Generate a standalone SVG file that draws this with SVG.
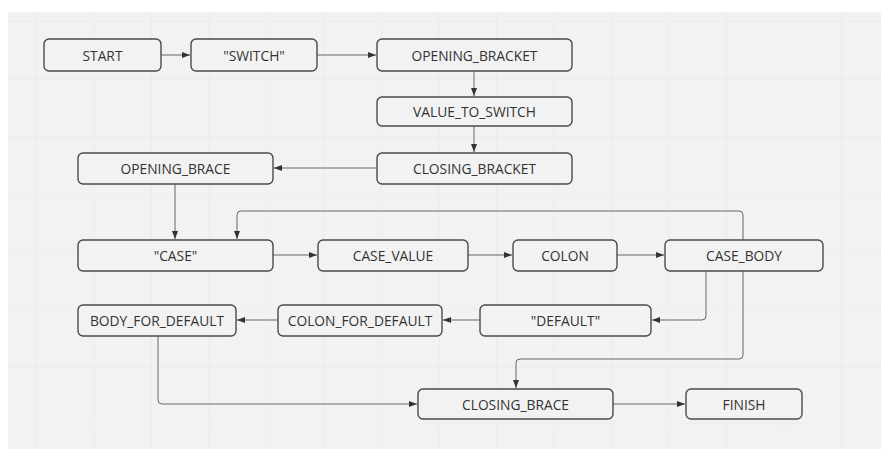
<svg xmlns="http://www.w3.org/2000/svg" width="881" height="449" viewBox="0 0 881 449">
<defs>
<marker id="ah" markerWidth="8" markerHeight="6" refX="8" refY="3" orient="auto" markerUnits="userSpaceOnUse">
<path d="M0,0 L8,3 L0,6 z" fill="#333"/>
</marker>
<pattern id="grid" x="36" y="21" width="57.5" height="57.5" patternUnits="userSpaceOnUse">
<path d="M0,0 V57.5 M0,0 H57.5" fill="none" stroke="#e6e6e6" stroke-width="1"/>
</pattern>
</defs>
<style>
.n rect{fill:#f2f2f2;stroke:#4a4a4a;stroke-width:1.4}
.n text{font-family:"Open Sans","Noto Sans",sans-serif;font-size:13.8px;fill:#333;text-anchor:middle;dominant-baseline:central}
#connectors path{fill:none;stroke:#666;stroke-width:1;marker-end:url(#ah)}
</style>
<rect x="0" y="0" width="881" height="449" fill="#ffffff"/>
<rect x="8" y="12" width="873" height="437" fill="#f2f2f2"/>
<rect x="8" y="12" width="873" height="437" fill="url(#grid)"/>
<g id="connectors">
<path d="M161,55 H190"/>
<path d="M317,55 H376"/>
<path d="M474,71 V96"/>
<path d="M474,126 V152"/>
<path d="M377,168 H274"/>
<path d="M175,184 V239"/>
<path d="M743,240 V215 Q743,211 739,211 H241 Q237,211 237,215 V239"/>
<path d="M273,255 H317"/>
<path d="M468,255 H512"/>
<path d="M617,255 H664"/>
<path d="M706,271 V316 Q706,320 702,320 H652"/>
<path d="M480,320 H443"/>
<path d="M278,320 H237"/>
<path d="M743,271 V355 Q743,359 739,359 H520 Q516,359 516,363 V388"/>
<path d="M158,336 V400 Q158,404 162,404 H417"/>
<path d="M613,404 H685"/>
</g>
<g id="start" class="n"><rect x="44" y="39" width="117" height="32" rx="5"/><text x="102.5" y="55">START</text></g>
<g id="switch" class="n"><rect x="191" y="39" width="126" height="32" rx="5"/><text x="254" y="55">"SWITCH"</text></g>
<g id="opening_bracket" class="n"><rect x="377" y="39" width="195" height="32" rx="5"/><text x="474.5" y="55">OPENING_BRACKET</text></g>
<g id="value_to_switch" class="n"><rect x="377" y="97" width="195" height="29" rx="5"/><text x="474.5" y="111.5">VALUE_TO_SWITCH</text></g>
<g id="closing_bracket" class="n"><rect x="377" y="153" width="195" height="31" rx="5"/><text x="474.5" y="168.5">CLOSING_BRACKET</text></g>
<g id="opening_brace" class="n"><rect x="78" y="153" width="195" height="31" rx="5"/><text x="175.5" y="168.5">OPENING_BRACE</text></g>
<g id="case" class="n"><rect x="78" y="240" width="195" height="31" rx="5"/><text x="175.5" y="255.5">"CASE"</text></g>
<g id="case_value" class="n"><rect x="318" y="240" width="150" height="31" rx="5"/><text x="393" y="255.5">CASE_VALUE</text></g>
<g id="colon" class="n"><rect x="513" y="240" width="104" height="31" rx="5"/><text x="565" y="255.5">COLON</text></g>
<g id="case_body" class="n"><rect x="665" y="240" width="158" height="31" rx="5"/><text x="744" y="255.5">CASE_BODY</text></g>
<g id="body_for_default" class="n"><rect x="78" y="305" width="158" height="31" rx="5"/><text x="157" y="320.5">BODY_FOR_DEFAULT</text></g>
<g id="colon_for_default" class="n"><rect x="278" y="305" width="164" height="31" rx="5"/><text x="360" y="320.5">COLON_FOR_DEFAULT</text></g>
<g id="default" class="n"><rect x="480" y="305" width="171" height="31" rx="5"/><text x="565.5" y="320.5">"DEFAULT"</text></g>
<g id="closing_brace" class="n"><rect x="418" y="389" width="195" height="30" rx="5"/><text x="515.5" y="404">CLOSING_BRACE</text></g>
<g id="finish" class="n"><rect x="686" y="389" width="116" height="30" rx="5"/><text x="744" y="404">FINISH</text></g>
</svg>
